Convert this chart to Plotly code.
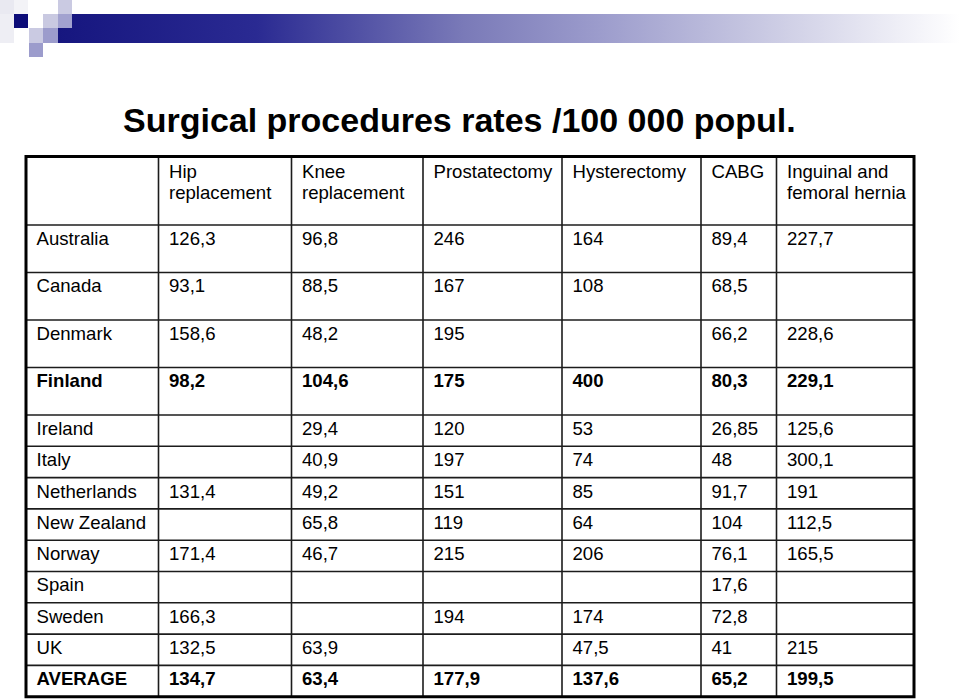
import base64
import plotly.graph_objects as go

# ---------------- data ----------------
countries = ["Australia", "Canada", "Denmark", "Finland", "Ireland", "Italy",
             "Netherlands", "New Zealand", "Norway", "Spain", "Sweden", "UK", "AVERAGE"]
headers = ["", "Hip<br>replacement", "Knee<br>replacement", "Prostatectomy",
           "Hysterectomy", "CABG", "Inguinal and<br>femoral hernia"]
hip = [126.3, 93.1, 158.6, 98.2, None, None, 131.4, None, 171.4, None, 166.3, 132.5, 134.7]
knee = [96.8, 88.5, 48.2, 104.6, 29.4, 40.9, 49.2, 65.8, 46.7, None, None, 63.9, 63.4]
prostatectomy = [246, 167, 195, 175, 120, 197, 151, 119, 215, None, 194, None, 177.9]
hysterectomy = [164, 108, None, 400, 53, 74, 85, 64, 206, None, 174, 47.5, 137.6]
cabg = [89.4, 68.5, 66.2, 80.3, 26.85, 48, 91.7, 104, 76.1, 17.6, 72.8, 41, 65.2]
hernia = [227.7, None, 228.6, 229.1, 125.6, 300.1, 191, 112.5, 165.5, None, None, 215, 199.5]
bold_rows = ["Finland", "AVERAGE"]
title = "Surgical procedures rates /100 000 popul."

# ---------------- styles / layout geometry ----------------
W, H = 960, 699
FONT = "Liberation Sans, Arial, sans-serif"
FS = 18.6
col_widths = [132.5, 133, 131.5, 139, 139, 75.5, 137.5]
table_left = 26
table_top = 156.5
header_h = 68.5
row_heights = [47.5] * 4 + [31.3] * 9
PAD_X = 10.5
TEXT_DY = 15.3
HEAD_DY = 16.5
HEAD_LINE = 21

col_edges = [table_left]
for w in col_widths:
    col_edges.append(col_edges[-1] + w)
row_edges = [table_top, table_top + header_h]
for h in row_heights:
    row_edges.append(row_edges[-1] + h)


def fmt(v):
    if v is None:
        return ""
    return str(v).replace(".", ",")


columns = [countries, hip, knee, prostatectomy, hysterectomy, cabg, hernia]

fig = go.Figure()

# body cells
for j, col in enumerate(columns):
    xs, ys, ts = [], [], []
    for i, v in enumerate(col):
        t = v if j == 0 else fmt(v)
        if t == "":
            continue
        if countries[i] in bold_rows:
            t = "<b>" + t + "</b>"
        xs.append(col_edges[j] + PAD_X)
        ys.append(row_edges[i + 1] + TEXT_DY)
        ts.append(t)
    fig.add_trace(go.Scatter(x=xs, y=ys, text=ts, mode="text",
                             textposition="middle right",
                             textfont=dict(family=FONT, size=FS, color="#000000"),
                             hoverinfo="skip", showlegend=False))

# header cells
hx, hy, ht = [], [], []
for j, lab in enumerate(headers):
    if not lab:
        continue
    for k, line in enumerate(lab.split("<br>")):
        hx.append(col_edges[j] + PAD_X)
        hy.append(row_edges[0] + HEAD_DY + k * HEAD_LINE)
        ht.append(line)
fig.add_trace(go.Scatter(x=hx, y=hy, text=ht, mode="text", textposition="middle right",
                         textfont=dict(family=FONT, size=FS, color="#000000"),
                         hoverinfo="skip", showlegend=False))

shapes = []
# inner grid lines
for y in row_edges[1:-1]:
    shapes.append(dict(type="line", xref="x", yref="y", x0=col_edges[0], x1=col_edges[-1],
                       y0=y, y1=y, line=dict(color="#1c1c1c", width=1.6)))
for x in col_edges[1:-1]:
    shapes.append(dict(type="line", xref="x", yref="y", x0=x, x1=x,
                       y0=row_edges[0], y1=row_edges[-1], line=dict(color="#1c1c1c", width=1.6)))
# outer border
shapes.append(dict(type="rect", xref="x", yref="y", x0=col_edges[0], x1=col_edges[-1],
                   y0=row_edges[0], y1=row_edges[-1], line=dict(color="#000000", width=3)))

# decorative squares (top-left)
squares = [
    (0, 0, 14, 14, "#e9e9f1"), (0, 14, 14, 43, "#eeeef4"), (14, 0, 28, 14, "#f3f3f7"),
    (14, 14, 28, 28, "#0c0c78"), (43, 14, 58, 28, "#c9c9e1"), (58, 0, 72, 14, "#cacae2"),
    (29, 28, 43, 43, "#cacae2"), (43, 28, 58, 43, "#9c9ccc"), (29, 43, 43, 57, "#9c9ccc"),
]
for x0, y0, x1, y1, c in squares:
    shapes.append(dict(type="rect", xref="x", yref="y", x0=x0, x1=x1, y0=y0, y1=y1,
                       line=dict(width=0), fillcolor=c, layer="above"))

# gradient bar
bar_x0, bar_y0, bar_w, bar_h = 58, 14, 902, 29
svg = (f'<svg xmlns="http://www.w3.org/2000/svg" width="{bar_w}" height="{bar_h}">'
       '<defs><linearGradient id="g" x1="0" x2="1" y1="0" y2="0">'
       '<stop offset="0" stop-color="#16167f"/>'
       '<stop offset="0.22" stop-color="#2a2a92"/>'
       '<stop offset="0.45" stop-color="#7a7ab8"/>'
       '<stop offset="0.6" stop-color="#9c9ccc"/>'
       '<stop offset="0.77" stop-color="#c6c6e1"/>'
       '<stop offset="0.93" stop-color="#eeeef6"/>'
       '<stop offset="1" stop-color="#ffffff"/>'
       '</linearGradient></defs>'
       f'<rect width="{bar_w}" height="{bar_h}" fill="url(#g)"/></svg>')
src = "data:image/svg+xml;base64," + base64.b64encode(svg.encode()).decode()
images = [dict(source=src, xref="paper", yref="paper", x=bar_x0 / W, y=1 - bar_y0 / H,
               sizex=bar_w / W, sizey=bar_h / H, xanchor="left", yanchor="top",
               sizing="stretch", layer="below")]
# small square overlaying bar start
shapes.append(dict(type="rect", xref="x", yref="y", x0=58, x1=72, y0=14, y1=28,
                   line=dict(width=0), fillcolor="#a2a2cf", layer="above"))

fig.update_layout(
    width=W, height=H,
    margin=dict(l=0, r=0, t=0, b=0),
    paper_bgcolor="white", plot_bgcolor="white",
    xaxis=dict(range=[0, W], visible=False, fixedrange=True),
    yaxis=dict(range=[H, 0], visible=False, fixedrange=True),
    shapes=shapes, images=images,
    annotations=[dict(text="<b>" + title + "</b>", xref="x", yref="y", x=121, y=120,
                      xanchor="left", yanchor="middle", showarrow=False,
                      font=dict(family=FONT, size=34, color="#000000"))],
)

fig.write_html("out.html",
               config={"displayModeBar": False, "staticPlot": True},
               post_script="document.body.style.margin='0';document.body.style.overflow='hidden';")
